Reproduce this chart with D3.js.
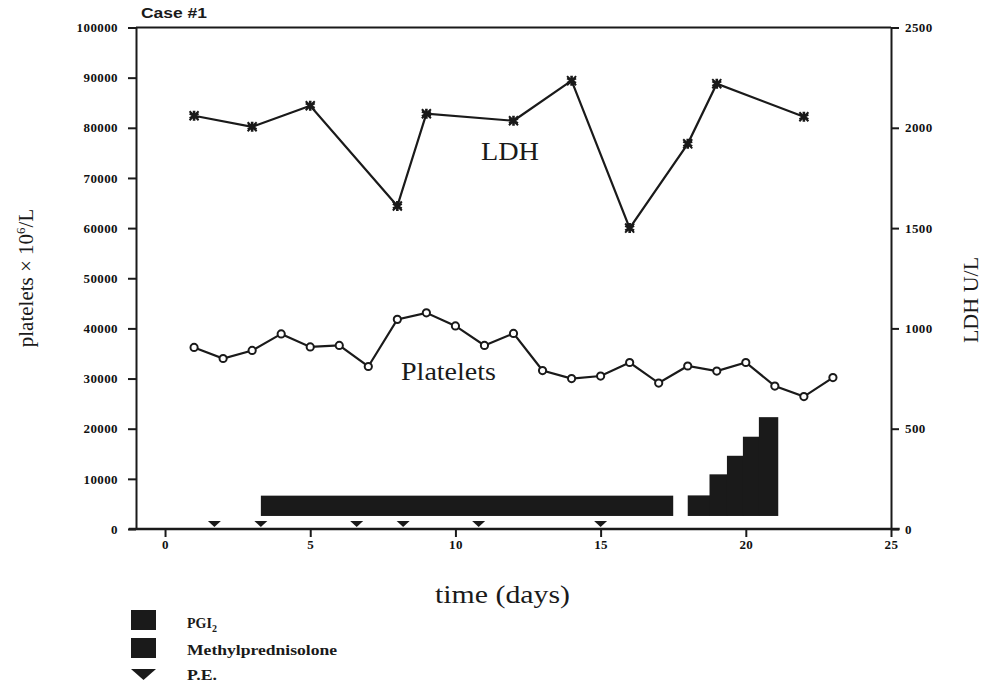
<!DOCTYPE html>
<html>
<head>
<meta charset="utf-8">
<script src="https://cdn.jsdelivr.net/npm/d3@7"></script>
<style>
  body { margin: 0; background: #fff; }
  svg { display: block; }
  .tick text { font-family: "Liberation Serif", serif; font-weight: bold; font-size: 13px; letter-spacing: 0.4px; fill: #111; }
</style>
</head>
<body>
<div class="canvas"></div>
<script>
// data
const plateletDays = [1, 2, 3, 4, 5, 6, 7, 8, 9, 10, 11, 12, 13, 14, 15, 16, 17, 18, 19, 20, 21, 22, 23];
const plateletValues = [36200, 34000, 35600, 38900, 36300, 36600, 32400, 41800, 43100, 40500, 36600, 39000,
  31600, 30000, 30500, 33200, 29100, 32500, 31500, 33200, 28500, 26400, 30200];
const ldhDays = [1, 3, 5, 8, 9, 12, 14, 16, 18, 19, 22];
const ldhValues = [2060, 2005, 2110, 1610, 2070, 2035, 2235, 1500, 1920, 2220, 2055];
const peDays = [1.7, 3.3, 6.6, 8.2, 10.8, 15];
// long treatment bar (day range, left-axis extent)
const barDays = [3.3, 17.5];
const barRange = [2600, 6650];
// stepped bar after day 18
const stepStarts = [18, 18.75, 19.35, 19.9, 20.45];
const stepEnd = 21.1;
const stepTops = [6700, 10900, 14600, 18400, 22300];
const stepBase = 2600;

const xTicks = [0, 5, 10, 15, 20, 25];
const leftTicks = d3.range(0, 100001, 10000);
const rightTicks = [0, 500, 1000, 1500, 2000, 2500];

const dims = { width: 989, height: 688 };
const plot = { left: 136, right: 891, top: 27.5, bottom: 529 };
const ink = "#1a1a1a";

const svg = d3.select(".canvas").append("svg")
  .attr("width", dims.width)
  .attr("height", dims.height);

const x = d3.scaleLinear().domain([-1, 25]).range([plot.left, plot.right]);
const yL = d3.scaleLinear().domain([0, 100000]).range([plot.bottom, plot.top]);
const yR = d3.scaleLinear().domain([0, 2500]).range([plot.bottom, plot.top]);

// frame: top line
svg.append("line")
  .attr("x1", plot.left).attr("x2", plot.right)
  .attr("y1", plot.top).attr("y2", plot.top)
  .attr("stroke", ink).attr("stroke-width", 2);

// axes
svg.append("g")
  .attr("transform", `translate(${plot.left},0)`)
  .call(d3.axisLeft(yL).tickValues(leftTicks).tickFormat(d3.format("d")).tickSize(8).tickPadding(10).tickSizeOuter(0));

svg.append("g")
  .attr("transform", `translate(${plot.right},0)`)
  .call(d3.axisRight(yR).tickValues(rightTicks).tickFormat(d3.format("d")).tickSize(8).tickPadding(6).tickSizeOuter(0));

const bottomAxis = svg.append("g")
  .attr("transform", `translate(0,${plot.bottom})`)
  .call(d3.axisBottom(x).tickValues(xTicks).tickSize(8).tickPadding(3).tickSizeOuter(0));
bottomAxis.select(".domain").remove();

svg.append("line")
  .attr("x1", x(-1.25)).attr("x2", x(25.3))
  .attr("y1", plot.bottom).attr("y2", plot.bottom)
  .attr("stroke", ink).attr("stroke-width", 2.5);

svg.selectAll(".domain, .tick line").attr("stroke", ink).attr("stroke-width", 2);

// treatment bars
svg.append("rect")
  .attr("x", x(barDays[0]))
  .attr("y", yL(barRange[1]))
  .attr("width", x(barDays[1]) - x(barDays[0]))
  .attr("height", yL(barRange[0]) - yL(barRange[1]))
  .attr("fill", ink);

svg.selectAll(".step").data(stepStarts).enter().append("rect")
  .attr("class", "step")
  .attr("x", (d) => x(d))
  .attr("y", (d, i) => yL(stepTops[i]))
  .attr("width", (d, i) => x(i < stepStarts.length - 1 ? stepStarts[i + 1] : stepEnd) - x(d) + 0.5)
  .attr("height", (d, i) => yL(stepBase) - yL(stepTops[i]))
  .attr("fill", ink);

// P.E. markers
const tri = (cx, cy, w, h) => `M${cx - w / 2},${cy}L${cx + w / 2},${cy}L${cx},${cy + h}Z`;
svg.selectAll(".pe").data(peDays).enter().append("path")
  .attr("class", "pe")
  .attr("d", (d) => tri(x(d), plot.bottom - 8, 13, 6))
  .attr("fill", ink);

// LDH line
const ldh = ldhDays.map((d, i) => ({ day: d, v: ldhValues[i] }));
svg.append("path")
  .datum(ldh)
  .attr("fill", "none")
  .attr("stroke", ink)
  .attr("stroke-width", 2.2)
  .attr("d", d3.line().x((d) => x(d.day)).y((d) => yR(d.v)));

const star = d3.symbol().type(d3.symbolAsterisk).size(70);
const cross = d3.symbol().type(d3.symbolX).size(55);
const ldhMarks = svg.selectAll(".ldh").data(ldh).enter().append("g")
  .attr("class", "ldh")
  .attr("transform", (d) => `translate(${x(d.day)},${yR(d.v)})`);
ldhMarks.append("path").attr("d", star).attr("fill", "none").attr("stroke", ink).attr("stroke-width", 2.6);
ldhMarks.append("path").attr("d", cross).attr("fill", "none").attr("stroke", ink).attr("stroke-width", 2);

// platelets line
const plt = plateletDays.map((d, i) => ({ day: d, v: plateletValues[i] }));
svg.append("path")
  .datum(plt)
  .attr("fill", "none")
  .attr("stroke", ink)
  .attr("stroke-width", 2.2)
  .attr("d", d3.line().x((d) => x(d.day)).y((d) => yL(d.v)));

svg.selectAll(".plt").data(plt).enter().append("circle")
  .attr("class", "plt")
  .attr("cx", (d) => x(d.day))
  .attr("cy", (d) => yL(d.v))
  .attr("r", 3.6)
  .attr("fill", "#fff")
  .attr("stroke", ink)
  .attr("stroke-width", 2);

// labels (the scanned figure's type is a little wide, hence textLength)
const serif = "Liberation Serif, serif";
svg.append("text").attr("x", 141).attr("y", 18)
  .attr("font-family", "Liberation Sans, sans-serif").attr("font-weight", "bold").attr("font-size", 14)
  .attr("textLength", 66).attr("lengthAdjust", "spacingAndGlyphs")
  .attr("fill", ink).text("Case #1");

svg.append("text").attr("x", 481).attr("y", 160)
  .attr("font-family", serif).attr("font-size", 25)
  .attr("textLength", 58).attr("lengthAdjust", "spacingAndGlyphs")
  .attr("fill", ink).text("LDH");

svg.append("text").attr("x", 401).attr("y", 380)
  .attr("font-family", serif).attr("font-size", 25)
  .attr("textLength", 95).attr("lengthAdjust", "spacingAndGlyphs")
  .attr("fill", ink).text("Platelets");

svg.append("text").attr("x", 435).attr("y", 603)
  .attr("font-family", serif).attr("font-size", 25)
  .attr("textLength", 135).attr("lengthAdjust", "spacingAndGlyphs")
  .attr("fill", ink).text("time (days)");

const yTitle = svg.append("text")
  .attr("transform", "translate(33,278) rotate(-90)")
  .attr("text-anchor", "middle")
  .attr("font-family", serif).attr("font-size", 21).attr("fill", ink);
yTitle.append("tspan").text("platelets × 10");
yTitle.append("tspan").attr("font-size", 13).attr("dy", -8).text("6");
yTitle.append("tspan").attr("dy", 8).text("/L");

svg.append("text")
  .attr("transform", "translate(978,300) rotate(-90)")
  .attr("text-anchor", "middle")
  .attr("font-family", serif).attr("font-size", 22).attr("fill", ink)
  .text("LDH U/L");

// legend
const legend = svg.append("g").attr("transform", "translate(131,610)");
legend.append("rect").attr("x", 0).attr("y", 0).attr("width", 25).attr("height", 20).attr("fill", ink);
legend.append("rect").attr("x", 0).attr("y", 28).attr("width", 25).attr("height", 20).attr("fill", ink);
legend.append("path").attr("d", tri(12.5, 59, 25, 11)).attr("fill", ink);

const legendText = (y, len) => legend.append("text").attr("x", 56).attr("y", y)
  .attr("font-family", serif).attr("font-weight", "bold").attr("font-size", 14)
  .attr("textLength", len).attr("lengthAdjust", "spacingAndGlyphs").attr("fill", ink);
const pgi = legend.append("text").attr("x", 56).attr("y", 18)
  .attr("font-family", serif).attr("font-weight", "bold").attr("font-size", 14).attr("fill", ink);
pgi.append("tspan").text("PGI");
pgi.append("tspan").attr("font-size", 10).attr("dy", 4).text("2");
legendText(45, 150).text("Methylprednisolone");
legendText(70, 30).text("P.E.");
</script>
</body>
</html>
